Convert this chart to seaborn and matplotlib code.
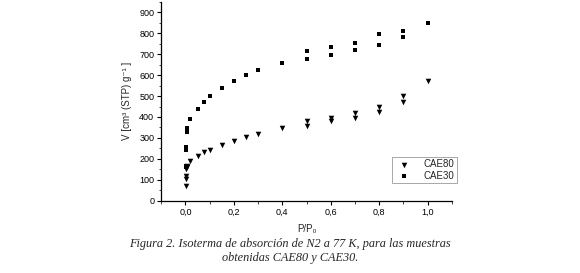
import matplotlib
matplotlib.use("Agg")
import matplotlib.pyplot as plt
from matplotlib.ticker import MultipleLocator, FuncFormatter
import numpy as np
import pandas as pd
import seaborn as sns

# CAE80 isotherm (triangles)
p_cae80 = [0.001, 0.002, 0.003, 0.004, 0.005, 0.006, 0.02, 0.05, 0.075, 0.1, 0.15, 0.2, 0.25, 0.3,
           0.4, 0.5, 0.5, 0.6, 0.6, 0.7, 0.7, 0.8, 0.8, 0.9, 0.9, 1.0]
v_cae80 = [72, 105, 120, 150, 160, 165, 188, 215, 231, 242, 266, 284, 303, 319,
           348, 379, 359, 396, 379, 418, 396, 450, 422, 502, 470, 574]

# CAE30 isotherm (squares)
p_cae30 = [0.001, 0.002, 0.003, 0.004, 0.005, 0.007, 0.02, 0.05, 0.075, 0.1, 0.15, 0.2, 0.25, 0.3,
           0.4, 0.5, 0.5, 0.6, 0.6, 0.7, 0.7, 0.8, 0.8, 0.9, 0.9, 1.0]
v_cae30 = [160, 168, 240, 258, 327, 348, 391, 439, 470, 498, 539, 573, 602, 626,
           657, 713, 679, 733, 698, 754, 719, 797, 746, 810, 781, 848]

df80 = pd.DataFrame({"p": p_cae80, "v": v_cae80})
df30 = pd.DataFrame({"p": p_cae30, "v": v_cae30})

sns.set_style("ticks")
plt.rcParams["font.family"] = ["Liberation Sans", "DejaVu Sans"]

fig = plt.figure(figsize=(5.8, 2.73), dpi=100)
ax = fig.add_axes([0.278, 0.265, 0.501, 0.728])

sns.scatterplot(data=df80, x="p", y="v", marker="v", color="black", s=16,
                linewidth=0, ax=ax, label="CAE80")
sns.scatterplot(data=df30, x="p", y="v", marker="s", color="black", s=8,
                linewidth=0, ax=ax, label="CAE30")

ax.set_xlim(-0.1, 1.1)
ax.set_ylim(0, 950)
ax.xaxis.set_major_locator(MultipleLocator(0.2))
ax.xaxis.set_minor_locator(MultipleLocator(0.1))
ax.yaxis.set_major_locator(MultipleLocator(100))
ax.yaxis.set_minor_locator(MultipleLocator(50))
ax.xaxis.set_major_formatter(FuncFormatter(lambda x, pos: f"{x:.1f}".replace(".", ",")))
ax.tick_params(which="major", length=3, width=0.8, labelsize=6.5, pad=2, colors="black")
ax.tick_params(which="minor", length=1.8, width=0.6)
sns.despine(ax=ax)
for s in ["left", "bottom"]:
    ax.spines[s].set_linewidth(0.9)
    ax.spines[s].set_color("black")

ax.set_xlabel("P/P₀", fontsize=7, labelpad=5)
ax.set_ylabel("V [cm³ (STP) g⁻¹ ]", fontsize=7, labelpad=5)

leg = ax.legend(loc="upper left", bbox_to_anchor=(0.676, 0.425), bbox_transform=fig.transFigure,
                fontsize=7, frameon=True, fancybox=False, edgecolor="gray",
                borderpad=0.25, handletextpad=1.0, labelspacing=0.15, markerscale=1.0,
                borderaxespad=0)
leg.get_frame().set_linewidth(0.6)

fig.text(0.5, 0.095, "Figura 2. Isoterma de absorción de N2 a 77 K, para las muestras",
         ha="center", fontsize=8.8, style="italic", family="Liberation Serif")
fig.text(0.5, 0.045, "obtenidas CAE80 y CAE30.",
         ha="center", fontsize=8.8, style="italic", family="Liberation Serif")

fig.savefig("out.png", dpi=100)
